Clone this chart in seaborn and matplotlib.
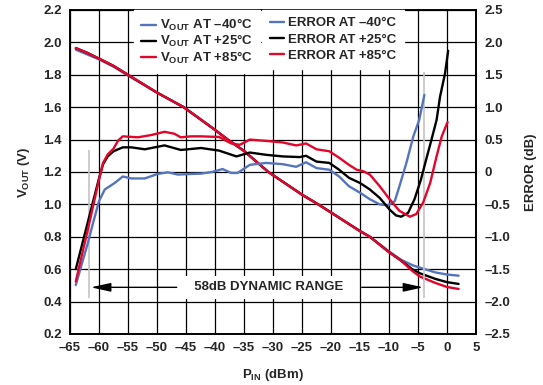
import matplotlib
matplotlib.use("Agg")
import matplotlib.pyplot as plt
import seaborn as sns
import pandas as pd
from matplotlib.ticker import MultipleLocator, FuncFormatter

# VOUT (left axis, V) vs input power (dBm)
pin_vout = [-64, -62, -60, -57.5, -55, -50, -45.4, -40, -37.8, -35, -30.8, -25, -22.2, -20, -15, -13.3, -10, -8, -6, -4.7, -2, 0, 2]
vout_m40 = [1.955, 1.925, 1.895, 1.85, 1.795, 1.69, 1.60, 1.46, 1.40, 1.33, 1.20, 1.06, 1.00, 0.95, 0.835, 0.80, 0.71, 0.66, 0.625, 0.61, 0.58, 0.567, 0.56]
vout_p25 = [1.965, 1.935, 1.90, 1.855, 1.80, 1.69, 1.60, 1.46, 1.40, 1.33, 1.20, 1.06, 1.00, 0.95, 0.835, 0.80, 0.705, 0.655, 0.60, 0.575, 0.54, 0.52, 0.509]
vout_p85 = [1.965, 1.935, 1.90, 1.855, 1.80, 1.69, 1.60, 1.46, 1.40, 1.33, 1.20, 1.06, 1.00, 0.95, 0.835, 0.80, 0.705, 0.655, 0.59, 0.555, 0.515, 0.49, 0.478]

# log conformance error (right axis, dB)
pin_err_m40 = [-64, -63, -62, -61, -60, -59, -57.3, -55.9, -54.4, -52.1, -49.9, -48.1, -46.4, -44, -42.4, -40.5, -38.7, -37.2, -36.1, -34, -31.2, -28.3, -26, -24.3, -22.5, -20.3, -18.6, -16.9, -15, -13.3, -11.6, -10.2, -9, -8.2, -7, -5.8, -4.8, -3.9]
err_m40 = [-1.745, -1.43, -1.12, -0.78, -0.45, -0.27, -0.17, -0.07, -0.10, -0.10, -0.03, -0.005, -0.04, -0.03, -0.025, 0.0, 0.045, -0.015, -0.015, 0.11, 0.14, 0.12, 0.08, 0.15, 0.06, 0.035, -0.07, -0.22, -0.32, -0.42, -0.50, -0.515, -0.45, -0.22, 0.14, 0.55, 0.80, 1.19]

pin_err_p25 = [-64, -63, -62, -61, -60, -59.3, -58.5, -57.5, -55.9, -54.4, -52.1, -48.7, -45.9, -42.4, -39.3, -36.3, -34, -31.2, -28.3, -25.4, -24.3, -22.5, -20.3, -18.6, -16.9, -15, -13.3, -11.6, -9.9, -8.8, -7.9, -6.7, -5.6, -4.5, -3.6, -2.7, -1.8, -1.2, -0.34, 0.2]
err_p25 = [-1.5, -1.15, -0.8, -0.45, -0.1, 0.12, 0.24, 0.32, 0.38, 0.38, 0.35, 0.41, 0.34, 0.37, 0.33, 0.24, 0.30, 0.265, 0.24, 0.23, 0.25, 0.16, 0.14, 0.035, -0.09, -0.17, -0.27, -0.40, -0.58, -0.67, -0.69, -0.63, -0.42, -0.12, 0.19, 0.49, 0.80, 1.16, 1.52, 1.87]

pin_err_p85 = [-64, -63, -62, -61, -60, -59.3, -58.5, -57.5, -56.7, -55.9, -53.3, -51, -48.7, -47, -45.9, -44.1, -42.4, -39.3, -37.2, -35.7, -34, -31.2, -28.3, -26, -24.3, -22.5, -20.3, -18.6, -16.9, -15.6, -14.4, -13.3, -11.6, -9.9, -8.2, -6.4, -5.3, -4.1, -2.9, -1.8, -0.9, 0.1]
err_p85 = [-1.69, -1.3, -0.92, -0.52, -0.12, 0.14, 0.27, 0.36, 0.485, 0.55, 0.535, 0.57, 0.62, 0.59, 0.535, 0.55, 0.55, 0.54, 0.44, 0.42, 0.50, 0.48, 0.455, 0.41, 0.44, 0.35, 0.32, 0.22, 0.11, 0.036, 0.01, -0.04, -0.22, -0.42, -0.60, -0.69, -0.65, -0.47, -0.17, 0.24, 0.55, 0.77]

# dynamic range markers
range_edges = [-61.8, -3.9]
range_low = [-1.94, -1.94]
range_high = [0.34, 1.55]
range_text_x = -30.7
range_y = -1.78
arrow_tips = [-61.4, -4.1]
arrow_tails = [-46.6, -14.7]

blue = "#5475bd"
red = "#e3062c"
black = "#000000"

sns.set_theme(style="white")
plt.rcParams["font.family"] = ["Liberation Sans", "DejaVu Sans"]
plt.rcParams["font.weight"] = "bold"
plt.rcParams["mathtext.fontset"] = "custom"
plt.rcParams["mathtext.rm"] = "Liberation Sans:bold"
plt.rcParams["mathtext.bf"] = "Liberation Sans:bold"
plt.rcParams["mathtext.it"] = "Liberation Sans:bold"
plt.rcParams["mathtext.default"] = "bf"

fig = plt.figure(figsize=(5.43, 3.85), dpi=100)
ax = fig.add_axes([0.1289, 0.1325, 0.7477, 0.8416])
ax2 = ax.twinx()

lw = 1.7
vdf = pd.DataFrame({"pin": pin_vout, "m40": vout_m40, "p25": vout_p25, "p85": vout_p85})
sns.lineplot(data=vdf, x="pin", y="m40", ax=ax, color=blue, lw=lw, label=r"V$_{OUT}$ AT –40°C")
sns.lineplot(data=vdf, x="pin", y="p25", ax=ax, color=black, lw=lw, label=r"V$_{OUT}$ AT +25°C")
sns.lineplot(data=vdf, x="pin", y="p85", ax=ax, color=red, lw=lw, label=r"V$_{OUT}$ AT +85°C")

sns.lineplot(x=pin_err_m40, y=err_m40, ax=ax2, color=blue, lw=lw, label="ERROR AT –40°C")
sns.lineplot(x=pin_err_p25, y=err_p25, ax=ax2, color=black, lw=lw, label="ERROR AT +25°C")
sns.lineplot(x=pin_err_p85, y=err_p85, ax=ax2, color=red, lw=lw, label="ERROR AT +85°C")

h1, l1 = ax.get_legend_handles_labels()
h2, l2 = ax2.get_legend_handles_labels()
for a in (ax, ax2):
    if a.get_legend() is not None:
        a.get_legend().remove()

ax2.vlines(range_edges, range_low, range_high, colors="#c4c4c4", lw=1.2, zorder=1.5)

ax2.text(range_text_x, range_y, "  58dB DYNAMIC RANGE  ", ha="center", va="center", fontsize=9.5,
         fontweight="bold", zorder=4, bbox=dict(boxstyle="square,pad=0.4", fc="white", ec="none"))
for tip, tail in zip(arrow_tips, arrow_tails):
    ax2.annotate("", xy=(tip, range_y), xytext=(tail, range_y), zorder=4,
                 arrowprops=dict(arrowstyle="-|>,head_length=1.0,head_width=0.22", color="black",
                                 lw=1.0, shrinkA=0, shrinkB=0))

# two legend columns, one white block behind them
leg_kw = dict(frameon=True, fancybox=False, facecolor="white", edgecolor="white", framealpha=1,
              fontsize=9.5, handlelength=1.1, handletextpad=0.3, borderpad=0.55, borderaxespad=0.0,
              loc="upper left")
leg1 = ax2.legend(h1, l1, bbox_to_anchor=(0.158, 1.0), labelspacing=0.0, **leg_kw)
leg1.set_zorder(5)
ax2.add_artist(leg1)
leg2 = ax2.legend(h2, l2, bbox_to_anchor=(0.474, 1.0), labelspacing=0.3, **leg_kw)
leg2.set_zorder(5)

ax.set_xlim(-65, 5)
ax.set_ylim(0.2, 2.2)
ax2.set_ylim(-2.5, 2.5)
ax.xaxis.set_major_locator(MultipleLocator(5))
ax.yaxis.set_major_locator(MultipleLocator(0.2))
ax2.yaxis.set_major_locator(MultipleLocator(0.5))
ax.xaxis.set_major_formatter(FuncFormatter(lambda v, p: f"{v:.0f}".replace("-", "–")))
ax.yaxis.set_major_formatter(FuncFormatter(lambda v, p: f"{v:.1f}"))
ax2.yaxis.set_major_formatter(FuncFormatter(lambda v, p: "0" if abs(v) < 1e-9 else f"{v:.1f}".replace("-", "–")))

ax.set_axisbelow(True)
ax.grid(True, color="black", lw=0.9)
ax2.grid(False)
for a in (ax, ax2):
    a.tick_params(length=0, labelsize=9.5, pad=6)
    for s in a.spines.values():
        s.set_color("black")
        s.set_linewidth(1.2)

ax.set_xlabel(r"P$_{IN}$ (dBm)", fontsize=9.5, fontweight="bold", labelpad=9)
ax.set_ylabel(r"V$_{OUT}$ (V)", fontsize=9.5, fontweight="bold", labelpad=8)
ax2.set_ylabel("ERROR (dB)", fontsize=9.5, fontweight="bold", labelpad=11)

fig.savefig("out.png", dpi=100)
